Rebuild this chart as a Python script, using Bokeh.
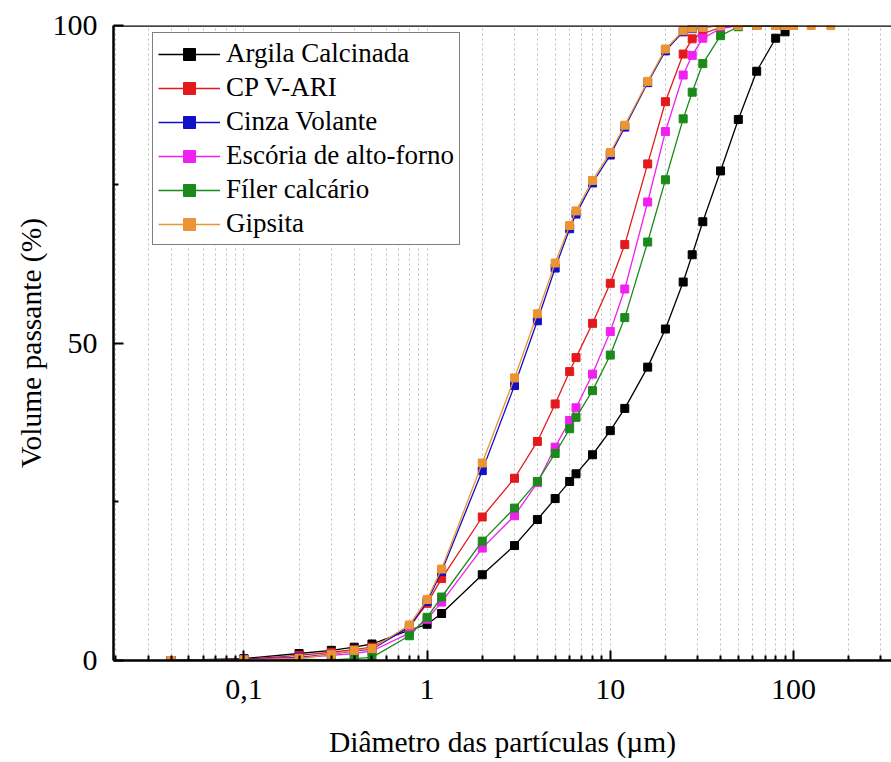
from bokeh.plotting import figure
from bokeh.models import Range1d, FixedTicker, Span, Legend, LegendItem
from bokeh.embed import file_html
from bokeh.resources import INLINE

# Particle sizes (µm)
sizes = [0.04, 0.1, 0.2, 0.3, 0.4, 0.5, 0.8, 1.0, 1.2, 2, 3, 4, 5, 6, 6.5, 8,
         10, 12, 16, 20, 25, 28, 32, 40, 50, 63, 80, 90, 100]
sizes_gipsita = sizes + [125, 160]

argila = [0, 0.3, 1.1, 1.6, 2.1, 2.6, 4.8, 5.7, 7.4, 13.5, 18.1, 22.2, 25.5, 28.2, 29.4, 32.4,
          36.2, 39.7, 46.2, 52.2, 59.6, 63.9, 69.1, 77.1, 85.2, 92.8, 98.0, 99.0, 100]
cpv_ari = [0, 0.2, 0.8, 1.3, 1.7, 2.1, 5.2, 9.0, 12.9, 22.6, 28.7, 34.5, 40.4, 45.5, 47.7, 53.1,
           59.4, 65.5, 78.2, 88.0, 95.5, 97.9, 98.7, 99.7, 100, 100, 100, 100, 100]
cinza = [0, 0.2, 0.5, 1.0, 1.5, 1.8, 5.3, 9.3, 14.0, 29.9, 43.3, 53.5, 61.8, 68.0, 70.3, 75.2,
         79.6, 84.0, 91.0, 96.0, 99.0, 99.5, 99.7, 100, 100, 100, 100, 100, 100]
escoria = [0, 0.1, 0.4, 0.8, 1.1, 1.5, 4.3, 6.5, 9.2, 17.7, 22.8, 28.0, 33.6, 37.8, 39.8, 45.1,
           51.8, 58.5, 72.2, 83.3, 92.2, 95.3, 98.0, 99.5, 100, 100, 100, 100, 100]
filer = [0, 0, 0.2, 0.1, 0.3, 0.5, 3.9, 6.8, 10.0, 18.8, 24.0, 28.2, 32.6, 36.5, 38.3, 42.5,
         48.1, 54.0, 65.9, 75.7, 85.3, 89.5, 94.0, 98.4, 99.8, 100, 100, 100, 100]
gipsita = [0, 0.1, 0.3, 1.0, 1.6, 1.9, 5.6, 9.6, 14.4, 31.1, 44.5, 54.6, 62.6, 68.5, 70.8, 75.6,
           80.0, 84.3, 91.2, 96.3, 99.2, 99.6, 99.7, 100, 100, 100, 100, 100, 100, 100, 100]

series_names = ["Argila Calcinada", "CP V-ARI", "Cinza Volante", "Escória de alto-forno",
                "Fíler calcário", "Gipsita"]
series_colors = ["#000000", "#e31a1c", "#1010c8", "#f020f0", "#1a8a1a", "#ec9433"]
series_x = [sizes, sizes, sizes, sizes, sizes, sizes_gipsita]
series_y = [argila, cpv_ari, cinza, escoria, filer, gipsita]

x_major = [0.1, 1, 10, 100]
x_labels = {0.1: "0,1", 1: "1", 10: "10", 100: "100"}
x_minor = [m * d for d in (0.01, 0.1, 1, 10, 100) for m in range(2, 10)]
y_major = [0, 50, 100]
y_minor = [25, 75]

FONT = "Liberation Serif"

p = figure(width=891, height=762, x_axis_type="log",
           x_range=Range1d(0.0194, 343), y_range=Range1d(0, 100),
           output_backend="svg", toolbar_location=None,
           min_border_left=113, min_border_right=0, min_border_top=25, min_border_bottom=102)
p.outline_line_color = None
p.background_fill_color = "white"

xt = FixedTicker(ticks=x_major, minor_ticks=x_minor)
p.xaxis.ticker = xt
p.xaxis.major_label_overrides = x_labels
p.xgrid.ticker = xt
p.xgrid.grid_line_color = "#bdbdbd"
p.xgrid.grid_line_dash = "2 3"
p.xgrid.grid_line_width = 1
p.xgrid.minor_grid_line_color = "#bdbdbd"
p.xgrid.minor_grid_line_dash = "2 3"
p.xgrid.minor_grid_line_width = 1
p.ygrid.grid_line_color = None

p.yaxis.ticker = FixedTicker(ticks=y_major, minor_ticks=y_minor)

for ax in (p.xaxis[0], p.yaxis[0]):
    ax.axis_line_width = 2.5
    ax.axis_line_color = "black"
    ax.major_tick_in = 10
    ax.major_tick_out = 0
    ax.minor_tick_in = 5
    ax.minor_tick_out = 0
    ax.major_tick_line_width = 2
    ax.minor_tick_line_width = 2
    ax.major_label_text_font = FONT
    ax.major_label_text_font_size = "30px"
    ax.major_label_text_color = "black"
    ax.axis_label_text_font = FONT
    ax.axis_label_text_font_size = "29.5px"
    ax.axis_label_text_font_style = "normal"
    ax.axis_label_text_color = "black"

p.xaxis.axis_label = "Diâmetro das partículas (µm)"
p.yaxis.axis_label = "Volume passante (%)"
p.xaxis.major_label_standoff = 19
p.xaxis.axis_label_standoff = 24
p.yaxis.major_label_standoff = 16
p.yaxis.axis_label_standoff = 3

p.add_layout(Span(location=100, dimension="width", line_color="black", line_width=2.5))

items = []
for name, col, xs, ys in zip(series_names, series_colors, series_x, series_y):
    r1 = p.line(xs, ys, line_color=col, line_width=1.3)
    r2 = p.scatter(xs, ys, marker="square", size=8, fill_color=col, line_color=col)
    items.append(LegendItem(label=name, renderers=[r1, r2]))

legend = Legend(items=items, location=(39, 415))
legend.label_text_font = FONT
legend.label_text_font_size = "27px"
legend.label_text_color = "black"
legend.glyph_width = 62
legend.glyph_height = 30
legend.label_height = 30
legend.spacing = 3
legend.padding = 5
legend.margin = 0
legend.label_standoff = 6
legend.border_line_color = "black"
legend.border_line_width = 1.5
legend.background_fill_alpha = 1
p.add_layout(legend)

open("out.html", "w").write(file_html(p, INLINE))
